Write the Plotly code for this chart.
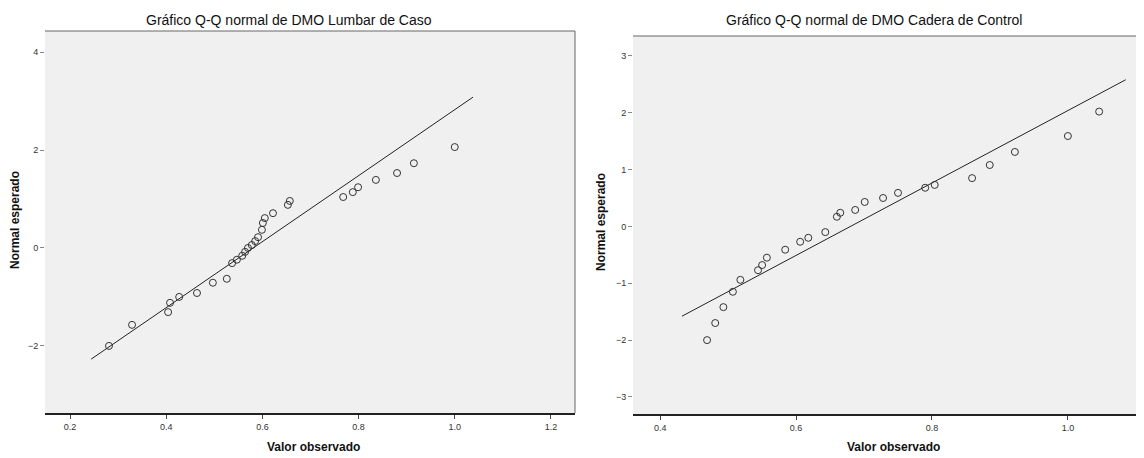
import plotly.graph_objects as go

# ---- Left chart: DMO Lumbar de Caso ----
caso_obs = [0.281, 0.329, 0.404, 0.408, 0.427, 0.464, 0.497, 0.526, 0.537, 0.547,
            0.558, 0.564, 0.570, 0.578, 0.585, 0.591, 0.599, 0.601, 0.605, 0.622,
            0.653, 0.657, 0.768, 0.788, 0.799, 0.836, 0.880, 0.915, 1.000]
caso_exp = [-2.00, -1.57, -1.31, -1.12, -1.00, -0.92, -0.71, -0.63, -0.31, -0.24,
            -0.16, -0.08, 0.00, 0.06, 0.14, 0.22, 0.37, 0.51, 0.61, 0.71,
            0.88, 0.96, 1.04, 1.14, 1.24, 1.39, 1.53, 1.73, 2.06]
caso_line_x = [0.244, 1.038]
caso_line_y = [-2.27, 3.08]
caso_xticks = [0.2, 0.4, 0.6, 0.8, 1.0, 1.2]
caso_xlabels = ["0.2", "0.4", "0.6", "0.8", "1.0", "1.2"]
caso_yticks = [-2, 0, 2, 4]

# ---- Right chart: DMO Cadera de Control ----
ctrl_obs = [0.469, 0.481, 0.493, 0.507, 0.518, 0.544, 0.550, 0.557, 0.584, 0.606,
            0.618, 0.643, 0.660, 0.665, 0.687, 0.701, 0.728, 0.750, 0.790, 0.804,
            0.859, 0.885, 0.922, 1.000, 1.046]
ctrl_exp = [-2.00, -1.70, -1.42, -1.15, -0.94, -0.77, -0.68, -0.55, -0.41, -0.27,
            -0.20, -0.10, 0.17, 0.24, 0.29, 0.43, 0.50, 0.59, 0.68, 0.73,
            0.85, 1.08, 1.31, 1.59, 2.02]
ctrl_line_x = [0.432, 1.085]
ctrl_line_y = [-1.58, 2.58]
ctrl_xticks = [0.4, 0.6, 0.8, 1.0]
ctrl_xlabels = ["0.4", "0.6", "0.8", "1.0"]
ctrl_yticks = [-3, -2, -1, 0, 1, 2, 3]

titles = ["Gráfico Q-Q normal de DMO Lumbar de Caso",
          "Gráfico Q-Q normal de DMO Cadera de Control"]
xtitle = "Valor observado"
ytitle = "Normal esperado"

OFF = 8  # page body margin
W, H = 1144 - OFF, 458 - OFF
FONT = "Liberation Sans, Arial, sans-serif"
BG = "#f0f0f0"

fig = go.Figure()

marker = dict(symbol="circle-open", size=7, color="#333333", line=dict(width=1))
fig.add_trace(go.Scatter(x=caso_line_x, y=caso_line_y, mode="lines",
                         line=dict(color="#222222", width=1), xaxis="x", yaxis="y",
                         showlegend=False, hoverinfo="skip"))
fig.add_trace(go.Scatter(x=caso_obs, y=caso_exp, mode="markers", marker=marker,
                         xaxis="x", yaxis="y", showlegend=False))
fig.add_trace(go.Scatter(x=ctrl_line_x, y=ctrl_line_y, mode="lines",
                         line=dict(color="#222222", width=1), xaxis="x2", yaxis="y2",
                         showlegend=False, hoverinfo="skip"))
fig.add_trace(go.Scatter(x=ctrl_obs, y=ctrl_exp, mode="markers", marker=marker,
                         xaxis="x2", yaxis="y2", showlegend=False))

def px_x(p):
    return (p - OFF) / W

def px_y(p):
    return 1 - (p - OFF) / H

L = dict(x0=45, x1=575, y0=31, y1=413)
R = dict(x0=633, x1=1144, y0=36, y1=414)

tickfont = dict(family=FONT, size=9, color="#333333")
common_x = dict(showgrid=False, zeroline=False, showline=True, linecolor="#222222",
                linewidth=2, ticks="outside", ticklen=4, tickcolor="#444444",
                tickfont=tickfont)
common_y = dict(showgrid=False, zeroline=False, showline=False,
                ticks="outside", ticklen=4, tickcolor="#888888", tickfont=tickfont)

fig.update_layout(
    width=W, height=H, margin=dict(l=0, r=0, t=0, b=0),
    paper_bgcolor="white", plot_bgcolor=BG,
    xaxis=dict(domain=[px_x(L["x0"]), px_x(L["x1"])], range=[0.148, 1.25],
               tickvals=caso_xticks, ticktext=caso_xlabels, anchor="y", **common_x),
    yaxis=dict(domain=[px_y(L["y1"]), px_y(L["y0"])], range=[-3.37, 4.43],
               tickvals=caso_yticks, anchor="x", **common_y),
    xaxis2=dict(domain=[px_x(R["x0"]), min(1.0, px_x(R["x1"]))], range=[0.36, 1.112],
                tickvals=ctrl_xticks, ticktext=ctrl_xlabels, anchor="y2", **common_x),
    yaxis2=dict(domain=[px_y(R["y1"]), px_y(R["y0"])], range=[-3.3, 3.35],
                tickvals=ctrl_yticks, anchor="x2", **common_y),
    shapes=[
        dict(type="line", xref="x domain", yref="y domain", x0=0, x1=1, y0=1, y1=1,
             line=dict(color="#666666", width=1)),
        dict(type="line", xref="x domain", yref="y domain", x0=1, x1=1, y0=0, y1=1,
             line=dict(color="#666666", width=1)),
        dict(type="line", xref="x2 domain", yref="y2 domain", x0=0, x1=1, y0=1, y1=1,
             line=dict(color="#666666", width=1)),
    ],
)

title_font = dict(family=FONT, size=14, color="#111111")
ann_font = dict(family=FONT, size=12, color="#111111")
annotations = [
    dict(text=titles[0], x=px_x(289), y=px_y(20), xref="paper",
         yref="paper", showarrow=False, font=title_font, xanchor="center", yanchor="middle"),
    dict(text=titles[1], x=px_x(874), y=px_y(20), xref="paper",
         yref="paper", showarrow=False, font=title_font, xanchor="center", yanchor="middle"),
    dict(text="<b>" + xtitle + "</b>", x=px_x(314), y=px_y(447),
         xref="paper", yref="paper", showarrow=False, font=ann_font,
         xanchor="center", yanchor="middle"),
    dict(text="<b>" + xtitle + "</b>", x=px_x(893), y=px_y(447),
         xref="paper", yref="paper", showarrow=False, font=ann_font,
         xanchor="center", yanchor="middle"),
    dict(text="<b>" + ytitle + "</b>", x=px_x(15), y=px_y(220), xref="paper",
         yref="paper", showarrow=False, font=ann_font, textangle=-90,
         xanchor="center", yanchor="middle"),
    dict(text="<b>" + ytitle + "</b>", x=px_x(601), y=px_y(222), xref="paper",
         yref="paper", showarrow=False, font=ann_font, textangle=-90,
         xanchor="center", yanchor="middle"),
]
fig.update_layout(annotations=annotations)

fig.write_html("out.html")
